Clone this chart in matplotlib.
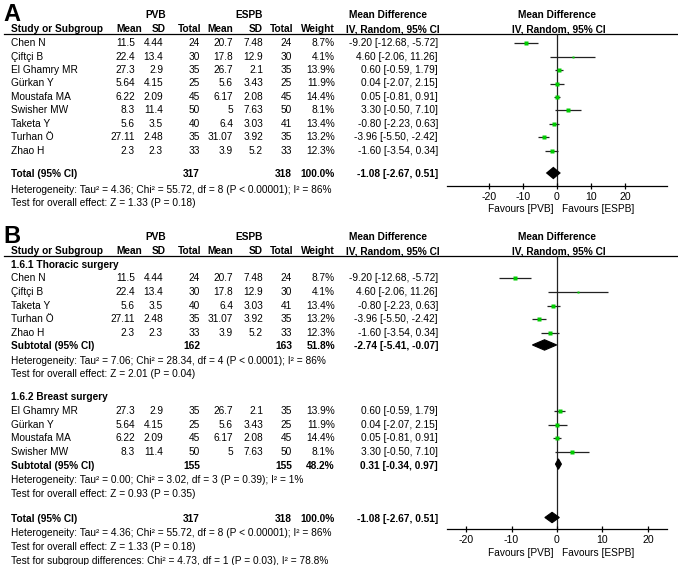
import matplotlib
matplotlib.use("Agg")
import matplotlib.pyplot as plt

plt.rcParams['font.family'] = ['Liberation Sans', 'DejaVu Sans']

# ---------------- data ----------------
studies = ["Chen N", "Çiftçi B", "El Ghamry MR", "Gürkan Y", "Moustafa MA",
           "Swisher MW", "Taketa Y", "Turhan Ö", "Zhao H"]
pvb_mean = [11.5, 22.4, 27.3, 5.64, 6.22, 8.3, 5.6, 27.11, 2.3]
pvb_sd = [4.44, 13.4, 2.9, 4.15, 2.09, 11.4, 3.5, 2.48, 2.3]
pvb_n = [24, 30, 35, 25, 45, 50, 40, 35, 33]
espb_mean = [20.7, 17.8, 26.7, 5.6, 6.17, 5, 6.4, 31.07, 3.9]
espb_sd = [7.48, 12.9, 2.1, 3.43, 2.08, 7.63, 3.03, 3.92, 5.2]
espb_n = [24, 30, 35, 25, 45, 50, 41, 35, 33]
weight = [8.7, 4.1, 13.9, 11.9, 14.4, 8.1, 13.4, 13.2, 12.3]
md = [-9.20, 4.60, 0.60, 0.04, 0.05, 3.30, -0.80, -3.96, -1.60]
md_lo = [-12.68, -2.06, -0.59, -2.07, -0.81, -0.50, -2.23, -5.50, -3.54]
md_hi = [-5.72, 11.26, 1.79, 2.15, 0.91, 7.10, 0.63, -2.42, 0.34]

groups = ["1.6.1 Thoracic surgery", "1.6.2 Breast surgery"]
group_members = [[0, 1, 6, 7, 8], [2, 3, 4, 5]]
group_pvb_n = [162, 155]
group_espb_n = [163, 155]
group_weight = [51.8, 48.2]
group_md = [-2.74, 0.31]
group_lo = [-5.41, -0.34]
group_hi = [-0.07, 0.97]
group_het = ["Heterogeneity: Tau\u00b2 = 7.06; Chi\u00b2 = 28.34, df = 4 (P < 0.0001); I\u00b2 = 86%",
             "Heterogeneity: Tau\u00b2 = 0.00; Chi\u00b2 = 3.02, df = 3 (P = 0.39); I\u00b2 = 1%"]
group_z = ["Test for overall effect: Z = 2.01 (P = 0.04)",
           "Test for overall effect: Z = 0.93 (P = 0.35)"]

total_pvb_n = 317
total_espb_n = 318
total_weight = 100.0
total_md = -1.08
total_lo = -2.67
total_hi = 0.51
total_het = "Heterogeneity: Tau\u00b2 = 4.36; Chi\u00b2 = 55.72, df = 8 (P < 0.00001); I\u00b2 = 86%"
total_z = "Test for overall effect: Z = 1.33 (P = 0.18)"
subgroup_test = "Test for subgroup differences: Chi\u00b2 = 4.73, df = 1 (P = 0.03), I\u00b2 = 78.8%"

xticks = [-20, -10, 0, 10, 20]

# ---------------- layout ----------------
W, H = 678, 565
FS = 7.25
GREEN = '#00cc00'
LINE = '#222222'

fig = plt.figure(figsize=(W / 100, H / 100), dpi=100)
tx = fig.add_axes([0, 0, 1, 1])
tx.set_xlim(0, W)
tx.set_ylim(H, 0)
tx.axis('off')

X_NAME = 11
X_PM, X_PS, X_PN = 135, 163, 200
X_EM, X_ES, X_EN = 233, 263, 292
X_W = 335
X_MD = 438
X_MDH = 393
X_ZERO = 557
AX_L, AX_R = 447, 667


def t(x, y, s, ha='left', bold=False, size=FS):
    tx.text(x, y, s, ha=ha, va='center', fontsize=size,
            fontweight='bold' if bold else 'normal', color='black')


def header(y_top, letter):
    tx.text(3, y_top + 3, letter, ha='left', va='baseline', fontsize=17,
            fontweight='bold')
    yg = y_top - 3
    t(156, yg, "PVB", ha='center', bold=True)
    t(249, yg, "ESPB", ha='center', bold=True)
    t(388, yg, "Mean Difference", ha='center', bold=True)
    t(X_ZERO, yg, "Mean Difference", ha='center', bold=True)
    yh = y_top + 11
    t(X_NAME, yh, "Study or Subgroup", bold=True)
    t(142, yh, "Mean", ha='right', bold=True)
    t(166, yh, "SD", ha='right', bold=True)
    t(201, yh, "Total", ha='right', bold=True)
    t(X_EM, yh, "Mean", ha='right', bold=True)
    t(X_ES, yh, "SD", ha='right', bold=True)
    t(293, yh, "Total", ha='right', bold=True)
    t(X_W, yh, "Weight", ha='right', bold=True)
    t(X_MDH, yh, "IV, Random, 95% CI", ha='center', bold=True)
    t(X_ZERO + 2, yh, "IV, Random, 95% CI", ha='center', bold=True)
    tx.plot([4, W], [yh + 4.5, yh + 4.5], color='black', lw=0.9)
    return yh + 4.5


def study_row(i, y):
    t(X_NAME, y, studies[i])
    t(X_PM, y, f"{pvb_mean[i]:g}", ha='right')
    t(X_PS, y, f"{pvb_sd[i]:g}", ha='right')
    t(X_PN, y, f"{pvb_n[i]}", ha='right')
    t(X_EM, y, f"{espb_mean[i]:g}", ha='right')
    t(X_ES, y, f"{espb_sd[i]:g}", ha='right')
    t(X_EN, y, f"{espb_n[i]}", ha='right')
    t(X_W, y, f"{weight[i]:.1f}%", ha='right')
    t(X_MD, y, f"{md[i]:.2f} [{md_lo[i]:.2f}, {md_hi[i]:.2f}]", ha='right')


def summary_row(label, y, n1, n2, w, m, lo, hi):
    t(X_NAME, y, label, bold=True)
    t(X_PN, y, f"{n1}", ha='right', bold=True)
    t(X_EN, y, f"{n2}", ha='right', bold=True)
    t(X_W, y, f"{w:.1f}%", ha='right', bold=True)
    t(X_MD, y, f"{m:.2f} [{lo:.2f}, {hi:.2f}]", ha='right', bold=True)


def forest_axes(y_top, y_axis, half_range):
    ax = fig.add_axes([AX_L / W, 1 - y_axis / H, (AX_R - AX_L) / W, (y_axis - y_top) / H])
    ax.set_xlim(-half_range, half_range)
    ax.set_ylim(y_axis, y_top)
    ax.patch.set_visible(False)
    for s in ['top', 'right', 'left']:
        ax.spines[s].set_visible(False)
    ax.spines['bottom'].set_linewidth(0.9)
    ax.set_yticks([])
    ax.set_xticks(xticks)
    ax.set_xticklabels([str(v) for v in xticks], fontsize=FS + 0.3)
    ax.tick_params(axis='x', direction='inout', length=5, width=0.9, pad=1.5)
    ax.axvline(0, color=LINE, lw=0.9, zorder=1)
    return ax


def square(ax, i, y):
    ax.hlines(y, md_lo[i], md_hi[i], color=LINE, lw=0.9, zorder=2)
    side_px = 1.3 * weight[i] ** 0.5
    ax.plot(md[i], y, marker='s', ms=side_px * 0.72, color=GREEN, mec='none', zorder=3)


def diamond(ax, y, m, lo, hi, h=5.2, lw=0.8):
    ax.fill([lo, m, hi, m], [y, y - h, y, y + h], color='black', lw=lw,
            ec='black', zorder=3)


def favours(y):
    t(X_ZERO - 4, y, "Favours [PVB]", ha='right')
    t(X_ZERO + 5, y, "Favours [ESPB]", ha='left')


# ---------------- Panel A ----------------
ya0 = 18
line_a = header(ya0, "A")
axA = forest_axes(line_a, 186, 32.4)
rowsA = [43.3 + 13.4 * k for k in range(len(studies))]
for i, y in enumerate(rowsA):
    study_row(i, y)
    square(axA, i, y)
yTA = 174
summary_row("Total (95% CI)", yTA, total_pvb_n, total_espb_n, total_weight,
            total_md, total_lo, total_hi)
diamond(axA, yTA - 1, total_md, total_lo, total_hi, h=4.5, lw=2.0)
t(X_NAME, 190, total_het)
t(X_NAME, 203.5, total_z)
favours(209)

# ---------------- Panel B ----------------
yb0 = 240
line_b = header(yb0, "B")
axB = forest_axes(line_b, 529, 24.2)
group_y = [265, 397]
for g in range(2):
    y0 = group_y[g]
    t(X_NAME, y0, groups[g], bold=True)
    step = 13.45 if g == 0 else 14.2
    y = y0 + step
    for k, i in enumerate(group_members[g]):
        yy = y + k * 13.6
        study_row(i, yy)
        square(axB, i, yy)
    ys = y + len(group_members[g]) * 13.6
    summary_row("Subtotal (95% CI)", ys, group_pvb_n[g], group_espb_n[g],
                group_weight[g], group_md[g], group_lo[g], group_hi[g])
    diamond(axB, ys - 1.5, group_md[g], group_lo[g], group_hi[g])
    t(X_NAME, ys + 14.5, group_het[g])
    t(X_NAME, ys + 28, group_z[g])

yTB = 518.5
summary_row("Total (95% CI)", yTB, total_pvb_n, total_espb_n, total_weight,
            total_md, total_lo, total_hi)
diamond(axB, yTB - 1, total_md, total_lo, total_hi)
t(X_NAME, 533, total_het)
t(X_NAME, 547, total_z)
t(X_NAME, 561, subgroup_test)
favours(553)

fig.savefig("out.png", dpi=100)
